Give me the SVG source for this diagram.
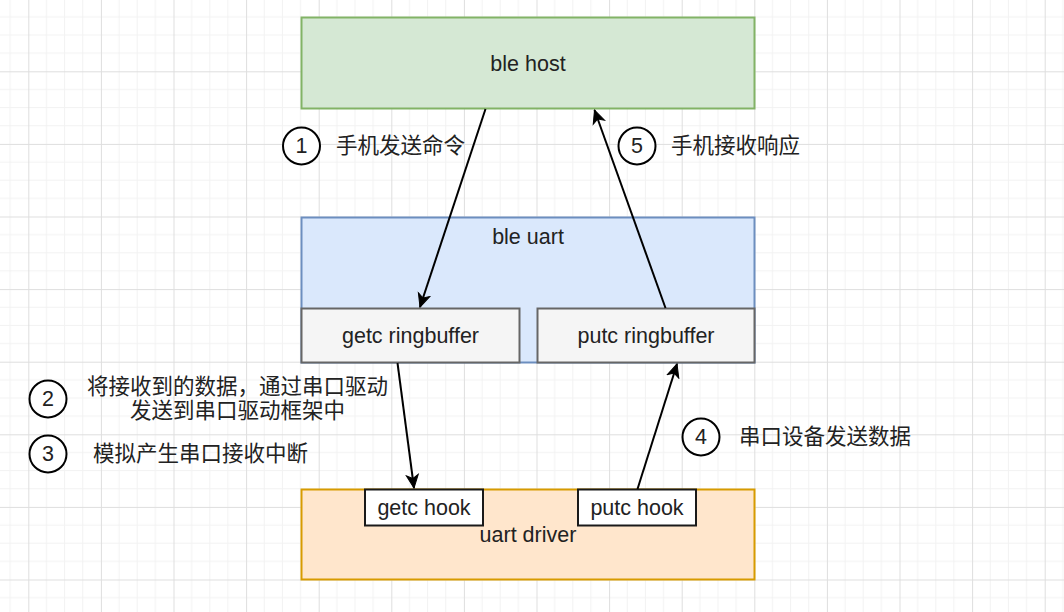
<svg xmlns="http://www.w3.org/2000/svg" width="1064" height="612" viewBox="0 0 1064 612">
<defs>
<pattern id="grid" patternUnits="userSpaceOnUse" x="28.3" y="-1.3" width="72.6" height="72.6">
<path d="M18.15 0V72.6M36.3 0V72.6M54.45 0V72.6M0 18.15H72.6M0 36.3H72.6M0 54.45H72.6" stroke="#f2f2f2" stroke-width="1" fill="none"/>
<path d="M0.5 0V72.6M0 0.5H72.6" stroke="#dedede" stroke-width="1" fill="none"/>
</pattern>
<marker id="arr" markerUnits="userSpaceOnUse" markerWidth="16" markerHeight="16" viewBox="0 0 16 16" refX="14" refY="8" orient="auto">
<path d="M1 2 L14 8 L1 14 L4.5 8 Z" fill="#000" stroke="#000" stroke-width="1"/>
</marker>
<style>
text{font-family:"Liberation Sans","Noto Sans CJK SC",Arial,sans-serif;font-size:21.5px;fill:#222;}
.c{text-anchor:middle;dominant-baseline:central;}
.l{dominant-baseline:central;}
.box{stroke-width:2;}
.num{fill:#fff;stroke:#000;stroke-width:2;}
.conn{stroke:#000;stroke-width:2;fill:none;}
</style>
</defs>
<rect width="1064" height="612" fill="#fff"/>
<rect width="1064" height="612" fill="url(#grid)"/>

<g id="ble-host">
<rect class="box" x="301.5" y="17.5" width="453" height="91" fill="#d5e8d4" stroke="#82b366"/>
<text class="c" x="528" y="64">ble host</text>
</g>
<g id="ble-uart">
<rect class="box" x="301.5" y="217.5" width="453" height="145" fill="#dae8fc" stroke="#6c8ebf"/>
<text class="c" x="528" y="237">ble uart</text>
</g>
<g id="getc-ringbuffer">
<rect class="box" x="301.5" y="308.5" width="218" height="54" fill="#f5f5f5" stroke="#666666"/>
<text class="c" x="410.5" y="336">getc ringbuffer</text>
</g>
<g id="putc-ringbuffer">
<rect class="box" x="537.5" y="308.5" width="217" height="54" fill="#f5f5f5" stroke="#666666"/>
<text class="c" x="646" y="336">putc ringbuffer</text>
</g>
<g id="uart-driver">
<rect class="box" x="301.5" y="489.5" width="453" height="90" fill="#ffe6cc" stroke="#d79b00"/>
<text class="c" x="528" y="535">uart driver</text>
</g>
<g id="getc-hook">
<rect class="box" x="365" y="489.5" width="118" height="36" fill="#fff" stroke="#1a1a1a"/>
<text class="c" x="424" y="508">getc hook</text>
</g>
<g id="putc-hook">
<rect class="box" x="578" y="489.5" width="118" height="36" fill="#fff" stroke="#1a1a1a"/>
<text class="c" x="637" y="508">putc hook</text>
</g>

<g id="connectors">
<line class="conn" x1="485.5" y1="109" x2="420" y2="307" marker-end="url(#arr)"/>
<line class="conn" x1="665.5" y1="308" x2="594.5" y2="110" marker-end="url(#arr)"/>
<line class="conn" x1="397.5" y1="363" x2="414" y2="488" marker-end="url(#arr)"/>
<line class="conn" x1="637.5" y1="489" x2="677" y2="364" marker-end="url(#arr)"/>
</g>

<g id="label-1">
<circle class="num" cx="301.5" cy="146" r="18.5"/>
<text class="c" x="301.5" y="146">1</text>
<text class="l" x="336" y="146">手机发送命令</text>
</g>
<g id="label-5">
<circle class="num" cx="637" cy="146" r="18.5"/>
<text class="c" x="637" y="146">5</text>
<text class="l" x="671" y="146">手机接收响应</text>
</g>
<g id="label-2">
<circle class="num" cx="48" cy="399" r="18.5"/>
<text class="c" x="48" y="399">2</text>
<text class="c" x="237.5" y="387">将接收到的数据，通过串口驱动</text>
<text class="c" x="237.5" y="411">发送到串口驱动框架中</text>
</g>
<g id="label-3">
<circle class="num" cx="48" cy="454" r="18.5"/>
<text class="c" x="48" y="454">3</text>
<text class="l" x="93" y="454">模拟产生串口接收中断</text>
</g>
<g id="label-4">
<circle class="num" cx="701" cy="437" r="18.5"/>
<text class="c" x="701" y="437">4</text>
<text class="l" x="739" y="437">串口设备发送数据</text>
</g>
</svg>
